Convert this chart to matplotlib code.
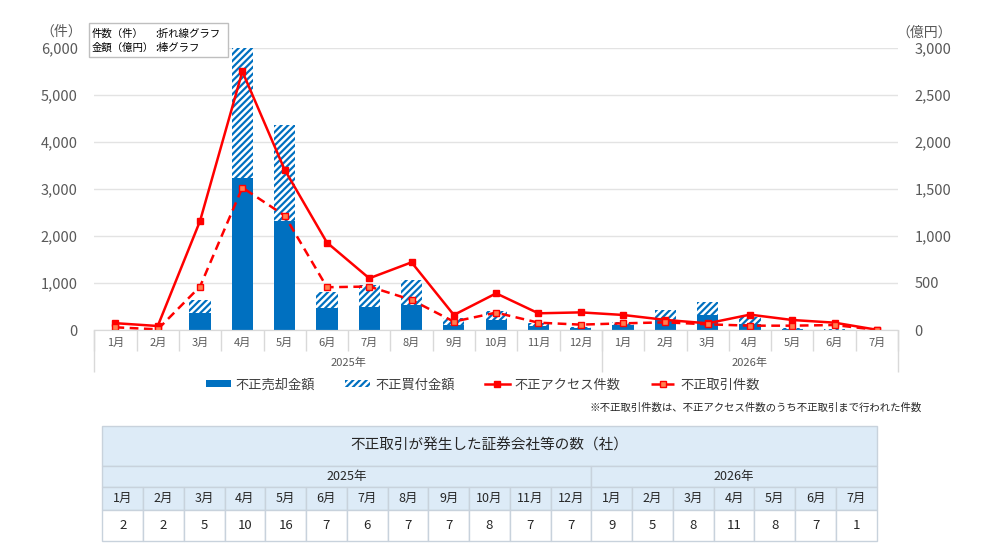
import numpy as np
import matplotlib
matplotlib.use("Agg")
import matplotlib.pyplot as plt
from matplotlib.patches import Rectangle

plt.rcParams['font.family'] = ['Noto Sans CJK JP', 'DejaVu Sans']
plt.rcParams['hatch.linewidth'] = 1.6

MONTHS = ["1月", "2月", "3月", "4月", "5月", "6月", "7月", "8月", "9月", "10月",
          "11月", "12月", "1月", "2月", "3月", "4月", "5月", "6月", "7月"]
YEARS = ["2025年", "2026年"]
YEAR_LEN = [12, 7]

# 金額（億円）
sell_amount = [3, 1, 178, 1620, 1155, 230, 248, 266, 55, 106,
               40, 18, 55, 106, 160, 64, 10, 4, 0]
buy_amount = [2, 1, 142, 1380, 1030, 178, 230, 266, 70, 100,
              30, 15, 25, 107, 142, 70, 10, 6, 0]

# 件数（件）
access_count = [145, 85, 2320, 5500, 3410, 1860, 1100, 1440, 320, 780,
                355, 375, 320, 215, 142, 327, 213, 156, 5]
trade_count = [57, 14, 925, 3030, 2435, 910, 925, 640, 178, 370,
               156, 114, 142, 163, 121, 92, 92, 106, 3]

# 不正取引が発生した証券会社等の数（社）
companies = [2, 2, 5, 10, 16, 7, 6, 7, 7, 8, 7, 7, 9, 5, 8, 11, 8, 7, 1]

BLUE = "#0070C0"
RED = "#FF0000"
GREY = "#595959"
W, H = 983, 552

fig = plt.figure(figsize=(W / 100, H / 100), dpi=100)


def fx(px):
    return px / W


def fy(py):
    return 1 - py / H


ax = fig.add_axes([fx(94.3), fy(330), fx(898) - fx(94.3), fy(48) - fy(330)])
ax2 = ax.twinx()
x = np.arange(len(MONTHS))

# bars on the right (億円) axis
b1 = ax2.bar(x, sell_amount, 0.5, color=BLUE, zorder=2)
b2 = ax2.bar(x, buy_amount, 0.5, bottom=sell_amount, color="white",
             edgecolor=BLUE, hatch="/////", linewidth=0, zorder=2)
ax2.set_ylim(0, 3000)
ax2.set_yticks(np.arange(0, 3001, 500))
ax2.set_yticklabels(["{:,}".format(v) for v in range(0, 3001, 500)])
ax2.yaxis.grid(True, color="#E3E3E3", linewidth=1)
ax2.set_axisbelow(True)

# lines on the left (件) axis, drawn over the bars
ax.set_zorder(ax2.get_zorder() + 1)
ax.patch.set_visible(False)
l1, = ax.plot(x, access_count, color=RED, lw=1.8, marker="s", ms=4,
              mfc=RED, mec=RED)
l2, = ax.plot(x, trade_count, color=RED, lw=1.8, dashes=(3.5, 2.2), marker="s",
              ms=4, mfc="#FF7F50", mec=RED)
ax.set_ylim(0, 6000)
ax.set_yticks(np.arange(0, 6001, 1000))
ax.set_yticklabels(["{:,}".format(v) for v in range(0, 6001, 1000)])
ax.set_xlim(-0.5, len(MONTHS) - 0.5)

for a in (ax, ax2):
    for s in ("left", "right", "top"):
        a.spines[s].set_visible(False)
    a.spines["bottom"].set_color("#D9D9D9")
    a.tick_params(axis="y", length=0, labelsize=10.5, colors=GREY, pad=12)

ax.set_xticks(x)
ax.set_xticklabels(MONTHS)
ax.tick_params(axis="x", length=0, labelsize=8, colors=GREY, pad=6)

# multi-level category axis
tr = ax.get_xaxis_transform()
ax.vlines(np.arange(-0.5, len(MONTHS)), -0.075, 0, color="#D9D9D9", lw=1,
          transform=tr, clip_on=False)
start = 0
for yl, n in zip(YEARS, YEAR_LEN):
    ax.vlines([start - 0.5], -0.15, 0, color="#D9D9D9", lw=1,
              transform=tr, clip_on=False)
    ax.text(start + (n - 1) / 2, -0.118, yl, transform=tr, ha="center",
            va="center", fontsize=8, color=GREY)
    start += n
ax.vlines([start - 0.5], -0.15, 0, color="#D9D9D9", lw=1,
          transform=tr, clip_on=False)

# axis unit labels
fig.text(fx(40), fy(32), "（件）", fontsize=10, color=GREY, va="center")
fig.text(fx(896), fy(33), "（億円）", fontsize=10, color=GREY, va="center")

# note box
fig.patches.append(Rectangle((fx(89), fy(57)), fx(228) - fx(89),
                             fy(23) - fy(57), transform=fig.transFigure,
                             facecolor="white", edgecolor="#BFBFBF", lw=1))
fig.text(fx(92), fy(34), "件数（件）", fontsize=7.5, va="center")
fig.text(fx(155), fy(34), ":折れ線グラフ", fontsize=7.5, va="center")
fig.text(fx(92), fy(48), "金額（億円）", fontsize=7.5, va="center")
fig.text(fx(155), fy(48), ":棒グラフ", fontsize=7.5, va="center")

# legend
fig.legend([b1, b2, l1, l2],
           ["不正売却金額", "不正買付金額", "不正アクセス件数", "不正取引件数"],
           loc="center", bbox_to_anchor=(fx(483), fy(385)), ncol=4,
           frameon=False, fontsize=9.5, handlelength=1.9, handleheight=0.45,
           handletextpad=0.35, columnspacing=2.3, labelcolor="#404040")

fig.text(fx(922), fy(408), "※不正取引件数は、不正アクセス件数のうち不正取引まで行われた件数",
         fontsize=7.5, ha="right", va="center", color="#262626")

# table of companies
tx0, tx1, ty0, ty1 = 102.3, 876.7, 425.7, 541
tab = fig.add_axes([fx(tx0), fy(ty1), fx(tx1) - fx(tx0), fy(ty0) - fy(ty1)])
tab.set_xlim(0, len(MONTHS))
tab.set_ylim(ty1 - ty0, 0)
tab.axis("off")
rows = [0, 40, 61, 84.3, ty1 - ty0]
HEAD = "#DDEBF7"
LINE = "#C8D2DC"
n = len(MONTHS)


def cell(x0, y0, w, h, fc):
    tab.add_patch(Rectangle((x0, y0), w, h, facecolor=fc, edgecolor=LINE,
                            lw=1, clip_on=False))


cell(0, rows[0], n, rows[1] - rows[0], HEAD)
tab.text(n / 2, (rows[0] + rows[1]) / 2, "不正取引が発生した証券会社等の数（社）",
         ha="center", va="center", fontsize=10.5, color="#262626")
start = 0
for yl, k in zip(YEARS, YEAR_LEN):
    cell(start, rows[1], k, rows[2] - rows[1], HEAD)
    tab.text(start + k / 2, (rows[1] + rows[2]) / 2, yl, ha="center",
             va="center", fontsize=9, color="#262626")
    start += k
for i in range(n):
    cell(i, rows[2], 1, rows[3] - rows[2], HEAD)
    tab.text(i + 0.5, (rows[2] + rows[3]) / 2, MONTHS[i], ha="center",
             va="center", fontsize=9, color="#262626")
    cell(i, rows[3], 1, rows[4] - rows[3], "white")
    tab.text(i + 0.5, (rows[3] + rows[4]) / 2, str(companies[i]), ha="center",
             va="center", fontsize=9.5, color="#262626")

fig.savefig("out.png", dpi=100)
plt.close()
